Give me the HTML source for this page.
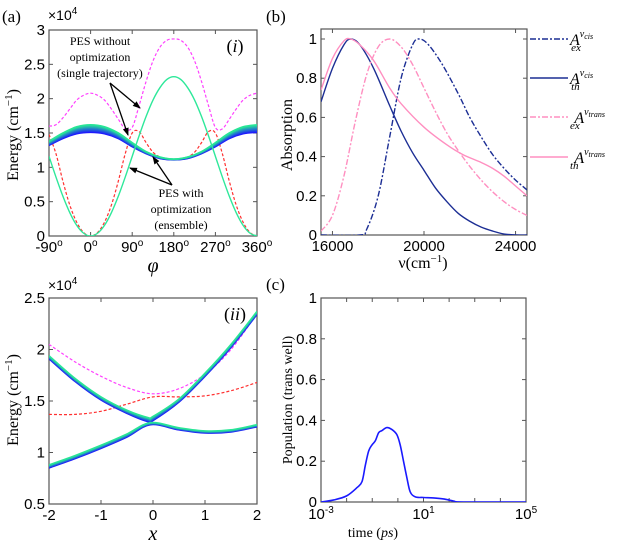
<!DOCTYPE html>
<html><head><meta charset="utf-8"><style>
body{margin:0;background:#fff}
svg{display:block;font-family:"Liberation Sans",sans-serif}
.serif{font-family:"Liberation Serif",serif}
</style></head><body>
<svg id="fig" width="623" height="552" viewBox="0 0 623 552"></svg>
<script>
// ---------- data ----------
const phiA = [-90,-75,-60,-45,-30,-15,0,15,30,45,60,75,90,105,120,135,150,165,180,195,210,225,240,255,270,285,300,315,330,345,360];
const greenA = [1.16,0.86,0.58,0.34,0.155,0.04,0,0.04,0.155,0.34,0.58,0.86,1.16,1.46,1.74,1.98,2.16,2.28,2.32,2.28,2.16,1.98,1.74,1.46,1.16,0.86,0.58,0.34,0.155,0.04,0];
const redA = [1.48,1.2,0.8,0.45,0.2,0.05,0,0.05,0.2,0.45,0.8,1.2,1.5,1.52,1.36,1.22,1.15,1.12,1.12,1.12,1.15,1.22,1.36,1.52,1.5,1.2,0.8,0.45,0.2,0.05,0];
const magA = [1.6,1.62,1.72,1.85,1.98,2.05,2.08,2.05,1.98,1.85,1.7,1.56,1.58,1.9,2.25,2.55,2.75,2.85,2.87,2.85,2.75,2.55,2.25,1.9,1.58,1.56,1.7,1.85,1.98,2.05,2.08];
const phiBand = [-90,-60,-30,0,30,60,90,120,150,180,210,240,270,300,330,360];
const bandLowA = [1.32,1.42,1.49,1.51,1.49,1.42,1.30,1.2,1.13,1.11,1.13,1.2,1.30,1.42,1.49,1.51];
const bandHighA = [1.38,1.5,1.59,1.62,1.59,1.5,1.36,1.23,1.15,1.12,1.15,1.23,1.36,1.5,1.59,1.62];

const xB = [-2,-1.5,-1,-0.5,0,0.5,1,1.5,2];
const magB = [2.05,1.88,1.74,1.63,1.57,1.62,1.76,2.0,2.35];
const redB = [1.37,1.37,1.4,1.47,1.54,1.54,1.55,1.6,1.68];
const xUp = [-2,-1.5,-1,-0.5,-0.1,0,0.5,1,1.5,2];
const upLow = [1.91,1.69,1.51,1.38,1.3,1.31,1.49,1.74,2.02,2.34];
const upHigh = [1.94,1.72,1.54,1.41,1.34,1.35,1.52,1.77,2.05,2.37];
const xLo = [-2,-1.5,-1,-0.5,-0.05,0.5,1,1.5,2];
const loLow = [0.85,0.94,1.04,1.15,1.27,1.22,1.19,1.2,1.25];
const loHigh = [0.88,0.97,1.07,1.18,1.29,1.24,1.21,1.22,1.27];

const nuExCis = [15500,17200,17500,18000,18500,19000,19500,19800,20200,20800,21500,22000,22500,23000,23500,24000,24500];
const aExCis = [0,0,0.03,0.2,0.5,0.8,0.97,1.0,0.97,0.87,0.72,0.6,0.5,0.41,0.34,0.28,0.23];
const nuThCis = [15500,16000,16500,16800,17200,17800,18500,19000,19500,20000,20500,21000,21500,22000,22500,23000,23500,24000,24500];
const aThCis = [0.68,0.85,0.97,1.0,0.97,0.85,0.66,0.53,0.42,0.33,0.24,0.17,0.11,0.07,0.04,0.02,0.005,0,0];
const nuExTr = [15500,16000,16500,17000,17500,18000,18500,19000,19500,20000,20500,21000,21500,22000,22500,23000,23500,24000,24500];
const aExTr = [0.02,0.1,0.3,0.58,0.82,0.96,1.0,0.96,0.87,0.75,0.63,0.52,0.43,0.35,0.28,0.22,0.17,0.13,0.1];
const nuThTr = [15500,16000,16500,16800,17200,17800,18500,19000,20000,21000,21700,22500,23000,23500,24000,24500];
const aThTr = [0.74,0.9,0.99,1.0,0.97,0.89,0.75,0.67,0.55,0.46,0.41,0.37,0.34,0.3,0.25,0.2];

const logT = [-3,-2.5,-2,-1.6,-1.4,-1.27,-1.14,-1.01,-0.88,-0.75,-0.62,-0.43,-0.23,-0.04,0.09,0.22,0.35,0.48,0.68,1.0,1.39,1.78,2.17,2.56,5];
const pop = [0,0.01,0.03,0.07,0.1,0.18,0.25,0.28,0.3,0.34,0.35,0.365,0.355,0.33,0.28,0.2,0.12,0.05,0.025,0.022,0.02,0.015,0.005,0,0];

// ---------- helpers ----------
const NS="http://www.w3.org/2000/svg";
const svg=document.getElementById('fig');
function el(tag,attrs,parent){const e=document.createElementNS(NS,tag);for(const k in attrs)e.setAttribute(k,attrs[k]);(parent||svg).appendChild(e);return e;}
function smooth(pts){let d=`M${pts[0][0].toFixed(2)},${pts[0][1].toFixed(2)}`;
 for(let i=0;i<pts.length-1;i++){const p0=pts[Math.max(0,i-1)],p1=pts[i],p2=pts[i+1],p3=pts[Math.min(pts.length-1,i+2)];
  const c1=[p1[0]+(p2[0]-p0[0])/6,p1[1]+(p2[1]-p0[1])/6],c2=[p2[0]-(p3[0]-p1[0])/6,p2[1]-(p3[1]-p1[1])/6];
  d+=`C${c1[0].toFixed(2)},${c1[1].toFixed(2)} ${c2[0].toFixed(2)},${c2[1].toFixed(2)} ${p2[0].toFixed(2)},${p2[1].toFixed(2)}`;}
 return d;}
function lin(d0,d1,r0,r1){return v=>r0+(v-d0)/(d1-d0)*(r1-r0);}
function curve(xs,ys,sx,sy,style,name,clip){const p=el('path',Object.assign({d:smooth(xs.map((x,i)=>[sx(x),sy(ys[i])])),fill:'none'},style));
 
 
 if(clip)p.setAttribute('clip-path',`url(#${clip})`);return p;}
function text(x,y,s,attrs,name){const t=el('text',Object.assign({x,y,'font-size':14,fill:'#000'},attrs||{}));t.innerHTML=s;
 
 return t;}
function frame(L,T,R,B,name,clip){el('rect',{x:L,y:T,width:R-L,height:B-T,fill:'none',stroke:'#555','stroke-width':1.2,});
 const cp=el('clipPath',{id:clip});el('rect',{x:L,y:T,width:R-L,height:B-T},cp);}
function band(xs,lo,hi,sx,sy,n,name,clip){for(let k=0;k<=n;k++){const f=k/n;const ys=lo.map((v,i)=>v+(hi[i]-v)*f);
 const r=Math.round(30*(1-f)+40*f),g=Math.round(20*(1-f)+230*f),b=Math.round(255*(1-f)+150*f);
 curve(xs,ys,sx,sy,{stroke:`rgb(${r},${g},${b})`,'stroke-width':1.6},name,clip);}}
function tickY(L,R,y,lab){el('line',{x1:L,x2:L+4,y1:y,y2:y,stroke:'#555'});el('line',{x1:R,x2:R-4,y1:y,y2:y,stroke:'#555'});
 if(lab!==null)text(L-4,y+5,lab,{'text-anchor':'end','font-size':15},'y-tick-label');}
function tickX(T,B,x,lab){el('line',{x1:x,x2:x,y1:B,y2:B-4,stroke:'#555'});el('line',{x1:x,x2:x,y1:T,y2:T+4,stroke:'#555'});
 if(lab!==null)text(x,B+16,lab,{'text-anchor':'middle','font-size':15},'x-tick-label');}

// ---------- panel (a)(i) ----------
{const L=49,R=257,T=30,B=236;const sx=lin(-90,360,L,R),sy=lin(0,3,B,T);
 frame(L,T,R,B,'panel-i-axes','cpA');
 for(let v=0;v<=3.001;v+=0.5)tickY(L,R,sy(v),v===0||v===1||v===2||v===3?String(v):v.toFixed(1));
 [-90,0,90,180,270,360].forEach(p=>tickX(T,B,sx(p),p+'<tspan dy="-6" font-size="10">o</tspan>'));
 curve(phiA,magA,sx,sy,{stroke:'#ff40ff','stroke-width':1.2,'stroke-dasharray':'3,2'},'magenta-dashed-upper-pes','cpA');
 curve(phiA,redA,sx,sy,{stroke:'#ff3030','stroke-width':1.2,'stroke-dasharray':'3,2'},'red-dashed-lower-pes','cpA');
 band(phiBand,bandLowA,bandHighA,sx,sy,8,'ensemble-band-lower','cpA');
 curve(phiA,greenA,sx,sy,{stroke:'#2ee89a','stroke-width':1.4},'green-upper-pes','cpA');
 text(235,52,'(<tspan font-style="italic">i</tspan>)',{class:'serif','font-size':18,'text-anchor':'middle'},'panel-i-label');
 text(100,45,'PES without',{class:'serif','font-size':12,'text-anchor':'middle'},'annotation-text');
 text(100,61,'optimization',{class:'serif','font-size':12,'text-anchor':'middle'},'annotation-text');
 text(100,77,'(single trajectory)',{class:'serif','font-size':12,'text-anchor':'middle'},'annotation-text');
 text(181,197,'PES with',{class:'serif','font-size':12,'text-anchor':'middle'},'annotation-text');
 text(181,213,'optimization',{class:'serif','font-size':12,'text-anchor':'middle'},'annotation-text');
 text(181,229,'(ensemble)',{class:'serif','font-size':12,'text-anchor':'middle'},'annotation-text');
 const defs=el('defs',{});const m=el('marker',{id:'ah',markerWidth:8,markerHeight:8,refX:7,refY:4,orient:'auto',markerUnits:'userSpaceOnUse'},defs);el('path',{d:'M0,1 L8,4 L0,7 Z',fill:'#000'},m);
 [[110,83,140,108],[110,83,128,135],[172,185,153,157],[172,185,130,168]].forEach(a=>el('line',{x1:a[0],y1:a[1],x2:a[2],y2:a[3],stroke:'#000','stroke-width':1.3,'marker-end':'url(#ah)',}));
 text(48,20,'×10<tspan dy="-6" font-size="10">4</tspan>',{'font-size':14},'y-scale-factor');
 text(153,272,'φ',{class:'serif','font-size':20,'font-style':'italic','text-anchor':'middle'},'x-axis-title-phi');
 text(18,135,'Energy (cm<tspan dy="-6" font-size="11">−1</tspan><tspan dy="6">)</tspan>',{class:'serif','font-size':16,'text-anchor':'middle',transform:'rotate(-90 18 135)'},'y-axis-title');
 text(2,22,'(a)',{class:'serif','font-size':17},'panel-a-label');}

// ---------- panel (a)(ii) ----------
{const L=49,R=257,T=298,B=504;const sx=lin(-2,2,L,R),sy=lin(0.5,2.5,B,T);
 frame(L,T,R,B,'panel-ii-axes','cpB');
 [0.5,1,1.5,2,2.5].forEach(v=>tickY(L,R,sy(v),String(v)));
 [-2,-1,0,1,2].forEach(v=>tickX(T,B,sx(v),String(v)));
 curve(xB,magB,sx,sy,{stroke:'#ff40ff','stroke-width':1.2,'stroke-dasharray':'3,2'},'magenta-dashed-upper-pes','cpB');
 curve(xB,redB,sx,sy,{stroke:'#ff3030','stroke-width':1.2,'stroke-dasharray':'3,2'},'red-dashed-lower-pes','cpB');
 band(xUp,upLow,upHigh,sx,sy,5,'ensemble-band-upper','cpB');
 band(xLo,loLow,loHigh,sx,sy,5,'ensemble-band-lower','cpB');
 text(235,320,'(<tspan font-style="italic">ii</tspan>)',{class:'serif','font-size':18,'text-anchor':'middle'},'panel-ii-label');
 text(48,290,'×10<tspan dy="-6" font-size="10">4</tspan>',{'font-size':14},'y-scale-factor');
 text(153,540,'x',{class:'serif','font-size':20,'font-style':'italic','text-anchor':'middle'},'x-axis-title-x');
 text(18,400,'Energy (cm<tspan dy="-6" font-size="11">−1</tspan><tspan dy="6">)</tspan>',{class:'serif','font-size':16,'text-anchor':'middle',transform:'rotate(-90 18 400)'},'y-axis-title');}

// ---------- panel (b) ----------
{const L=321,R=527,T=29,B=235;const sx=lin(15500,24500,L,R),sy=lin(0,1,B,39);
 frame(L,T,R,B,'panel-b-axes','cpC');
 [0,0.2,0.4,0.6,0.8,1].forEach(v=>tickY(L,R,sy(v),String(v)));
 [16000,20000,24000].forEach(v=>tickX(T,B,sx(v),String(v)));
 const navy='#1c2e94',pink='#ff8fc0';
 curve(nuExCis,aExCis,sx,sy,{stroke:navy,'stroke-width':1.4,'stroke-dasharray':'6,2,2,2'},'series-a-ex-cis','cpC');
 curve(nuThCis,aThCis,sx,sy,{stroke:navy,'stroke-width':1.4},'series-a-th-cis','cpC');
 curve(nuExTr,aExTr,sx,sy,{stroke:pink,'stroke-width':1.4,'stroke-dasharray':'6,2,2,2'},'series-a-ex-trans','cpC');
 curve(nuThTr,aThTr,sx,sy,{stroke:pink,'stroke-width':1.4},'series-a-th-trans','cpC');
 const leg=[[39,navy,'6,2,2,2','cis','ex'],[78,navy,'','cis','th'],[117,pink,'6,2,2,2','trans','ex'],[157,pink,'','trans','th']];
 leg.forEach(l=>{el('line',{x1:530,x2:568,y1:l[0],y2:l[0],stroke:l[1],'stroke-width':1.6,'stroke-dasharray':l[2]||'none',});
  text(570,l[0]+6,'A<tspan dy="-8" font-size="10">ν</tspan><tspan font-size="8" dy="2">'+l[3]+'</tspan><tspan dx="'+(l[3]==='cis'?-22:-35)+'" dy="12" font-size="11">'+l[4]+'</tspan>',{class:'serif','font-size':16,'font-style':'italic'},'legend-entry');});
 text(423,268,'ν(cm<tspan dy="-6" font-size="11">−1</tspan><tspan dy="6">)</tspan>',{class:'serif','font-size':16,'text-anchor':'middle'},'x-axis-title');
 text(292,135,'Absorption',{class:'serif','font-size':16,'text-anchor':'middle',transform:'rotate(-90 292 135)'},'y-axis-title');
 text(266,22,'(b)',{class:'serif','font-size':17},'panel-b-label');}

// ---------- panel (c) ----------
{const L=321,R=526,T=298,B=502;const sx=lin(-3,5,L,R),sy=lin(0,1,B,T);
 frame(L,T,R,B,'panel-c-axes','cpD');
 [0,0.2,0.4,0.6,0.8,1].forEach(v=>tickY(L,R,sy(v),String(v)));
 for(let d=-3;d<=5;d++)tickX(T,B,sx(d),null);
 [-3,1,5].forEach(d=>text(sx(d),B+17,'10<tspan dy="-6" font-size="10">'+d+'</tspan>',{'text-anchor':'middle','font-size':15},'x-tick-label'));
 curve(logT,pop,sx,sy,{stroke:'#1a1aff','stroke-width':1.6},'population-curve','cpD');
 text(373,537,'time (<tspan font-style="italic">ps</tspan>)',{class:'serif','font-size':14,'text-anchor':'middle'},'x-axis-title');
 text(292,400,'Population (trans well)',{class:'serif','font-size':14,'text-anchor':'middle',transform:'rotate(-90 292 400)'},'y-axis-title');
 text(266,290,'(c)',{class:'serif','font-size':17},'panel-c-label');}
</script>
</body></html>
